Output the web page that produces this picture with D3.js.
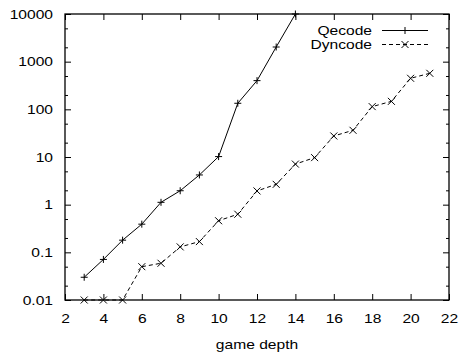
<!DOCTYPE html>
<html>
<head>
<meta charset="utf-8">
<script src="https://cdn.jsdelivr.net/npm/d3@7"></script>
<style>
  body { margin: 0; background: #fff; }
  text { font-family: "Liberation Sans", Arial, sans-serif; font-size: 13px; fill: #000; }
</style>
</head>
<body>
<script>
// data
var depths = [3, 4, 5, 6, 7, 8, 9, 10, 11, 12, 13, 14, 15, 16, 17, 18, 19, 20, 21];
var qecode = [0.030, 0.071, 0.18, 0.39, 1.12, 1.96, 4.2, 10.2, 134, 400, 2030, 10000];
var dyncode = [0.01, 0.01, 0.01, 0.05, 0.059, 0.13, 0.168, 0.46, 0.63, 1.94, 2.67, 7.1, 9.7, 27.6, 36.3, 114, 147, 448, 570];
var xTicks = [2, 4, 6, 8, 10, 12, 14, 16, 18, 20, 22];
var yTicks = [0.01, 0.1, 1, 10, 100, 1000, 10000];
var yTickLabels = ["0.01", "0.1", "1", "10", "100", "1000", "10000"];
var yMinor = [0.02, 0.05, 0.2, 0.5, 2, 5, 20, 50, 200, 500, 2000, 5000];
var seriesNames = ["Qecode", "Dyncode"];

var W = 460, H = 354;
var pLeft = 65, pRight = 449, pTop = 14, pBottom = 300;
var stretch = 1.2;

var x = d3.scaleLinear().domain([2, 22]).range([pLeft, pRight]);
var y = d3.scaleLog().domain([0.01, 10000]).range([pBottom, pTop]);

var svg = d3.select("body").append("svg")
    .attr("width", W)
    .attr("height", H);

// ticks, inward, mirrored on top and right
function tickStyle(g) {
  g.select(".domain").remove();
  g.selectAll("line").attr("stroke", "#000").attr("stroke-width", 1);
}

svg.append("g")
    .attr("transform", "translate(0," + pBottom + ")")
    .call(d3.axisBottom(x).tickValues(xTicks).tickSize(-6).tickPadding(14))
    .call(tickStyle)
    .call(function (g) {
      g.selectAll("text").attr("font-size", null).attr("font-family", null)
        .attr("transform", "scale(" + stretch + ",1)");
    });

svg.append("g")
    .attr("transform", "translate(0," + pTop + ")")
    .call(d3.axisTop(x).tickValues(xTicks).tickSize(-6).tickFormat(""))
    .call(tickStyle);

svg.append("g")
    .attr("transform", "translate(" + pLeft + ",0)")
    .call(d3.axisLeft(y).tickValues(yTicks).tickSize(-6)
      .tickFormat(function (d, i) { return yTickLabels[i]; }))
    .call(tickStyle)
    .call(function (g) {
      g.selectAll("text").attr("font-size", null).attr("font-family", null)
        .attr("x", 0)
        .attr("transform", "translate(-12,0) scale(" + stretch + ",1)");
    });

svg.append("g")
    .attr("transform", "translate(" + pLeft + ",0)")
    .call(d3.axisLeft(y).tickValues(yMinor).tickSize(-3).tickFormat(""))
    .call(tickStyle);

svg.append("g")
    .attr("transform", "translate(" + pRight + ",0)")
    .call(d3.axisRight(y).tickValues(yTicks).tickSize(-6).tickFormat(""))
    .call(tickStyle);

svg.append("g")
    .attr("transform", "translate(" + pRight + ",0)")
    .call(d3.axisRight(y).tickValues(yMinor).tickSize(-3).tickFormat(""))
    .call(tickStyle);

// frame
svg.append("rect")
    .attr("x", pLeft)
    .attr("y", pTop)
    .attr("width", pRight - pLeft)
    .attr("height", pBottom - pTop)
    .attr("fill", "none")
    .attr("stroke", "#000")
    .attr("stroke-width", 1.3);

// axis title
svg.append("text")
    .attr("transform", "translate(" + ((pLeft + pRight) / 2) + ",349) scale(" + stretch + ",1)")
    .attr("text-anchor", "middle")
    .text("game depth");

// series
var line = d3.line()
    .x(function (d) { return x(d[0]); })
    .y(function (d) { return y(d[1]); });

var qData = qecode.map(function (v, i) { return [depths[i], v]; });
var dData = dyncode.map(function (v, i) { return [depths[i], v]; });

function plus(g, px, py) {
  g.append("path")
    .attr("d", "M" + (px - 3.5) + "," + py + "H" + (px + 3.5) + "M" + px + "," + (py - 3.5) + "V" + (py + 3.5))
    .attr("stroke", "#000").attr("stroke-width", 1);
}
function cross(g, px, py) {
  g.append("path")
    .attr("d", "M" + (px - 3.5) + "," + (py - 3.5) + "L" + (px + 3.5) + "," + (py + 3.5) +
               "M" + (px - 3.5) + "," + (py + 3.5) + "L" + (px + 3.5) + "," + (py - 3.5))
    .attr("stroke", "#000").attr("stroke-width", 1);
}

svg.append("path")
    .datum(qData)
    .attr("d", line)
    .attr("fill", "none")
    .attr("stroke", "#000")
    .attr("stroke-width", 1);

svg.append("path")
    .datum(dData)
    .attr("d", line)
    .attr("fill", "none")
    .attr("stroke", "#000")
    .attr("stroke-width", 1)
    .attr("stroke-dasharray", "4,3");

var marks = svg.append("g");
qData.forEach(function (d) { plus(marks, x(d[0]), y(d[1])); });
dData.forEach(function (d) { cross(marks, x(d[0]), y(d[1])); });

// legend
var legY = [30.5, 44.5];
var legend = svg.append("g");
seriesNames.forEach(function (name, i) {
  legend.append("text")
    .attr("transform", "translate(372," + (legY[i] + 4.5) + ") scale(" + stretch + ",1)")
    .attr("text-anchor", "end")
    .text(name);
  legend.append("line")
    .attr("x1", 382).attr("x2", 428)
    .attr("y1", legY[i]).attr("y2", legY[i])
    .attr("stroke", "#000")
    .attr("stroke-width", 1)
    .attr("stroke-dasharray", i === 1 ? "4,3" : null);
  if (i === 0) plus(legend, 405, legY[i]); else cross(legend, 405, legY[i]);
});
</script>
</body>
</html>
